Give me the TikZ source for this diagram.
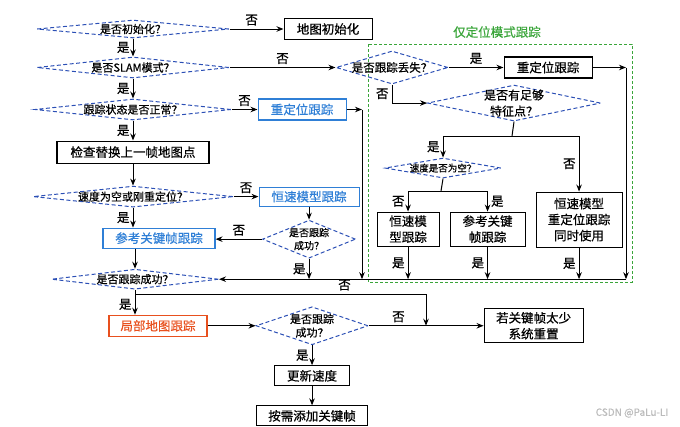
\documentclass[tikz,border=0pt]{standalone}
\usepackage{fontspec}
\setmainfont{Noto Sans CJK SC}[FakeBold=0.6]
\usepackage{xcolor}
\definecolor{flowBlue}{HTML}{2B4FB5}
\definecolor{boxBlue}{HTML}{2F7FD6}
\definecolor{boxRed}{HTML}{E8501E}
\definecolor{groupGreen}{HTML}{3AA53A}
\definecolor{markGray}{HTML}{BBBBBB}
\usepackage{tikz}
\usetikzlibrary{shapes.geometric,arrows.meta,positioning,calc}
\tikzset{
    procbox/.style={
        draw=black,
        rectangle,
        line width=1.1pt,
        align=center,
        inner sep=2pt,
        minimum height=21pt,
        font=\fontsize{12.5}{16}\selectfont
    },
    bluebox/.style={
        procbox,
        draw=boxBlue,
        text=boxBlue
    },
    redbox/.style={
        procbox,
        draw=boxRed,
        text=boxRed
    },
    decision/.style 2 args={
        diamond,
        draw=flowBlue,
        dash pattern=on 4pt off 2.5pt,
        line width=1pt,
        inner sep=0pt,
        minimum width=#1,
        minimum height=#2
    },
    dtext/.style={
        font=\fontsize{11}{13.5}\selectfont,
        align=center,
        inner sep=0pt
    },
    arrow/.style={
        ->,
        >={Stealth[length=7pt,width=5.5pt]},
        line width=1pt,
        color=black
    },
    wire/.style={
        line width=1pt,
        color=black
    },
    tag/.style={
        font=\fontsize{12.5}{14}\selectfont,
        inner sep=3pt
    }
}

\begin{document}
\begin{tikzpicture}[x=1pt, y=-1pt]
    \useasboundingbox (0,0) rectangle (680,426);

    % Main column
    \node[decision={192pt}{18pt}, label={[dtext]center:是否初始化？}] (init) at (133,29) {};
    \node[decision={192pt}{21pt}, below=18pt of init, label={[dtext]center:是否SLAM模式？}] (slam) {};
    \node[decision={196pt}{21pt}, below=20pt of slam, label={[dtext]center:跟踪状态是否正常？}] (state) {};
    \node[procbox, minimum width=152pt, minimum height=22pt, below=20pt of state] (check) {检查替换上一帧地图点};
    \node[decision={200pt}{21pt}, below=22pt of check, label={[dtext]center:速度为空或刚重定位？}] (vel) {};
    \node[bluebox, minimum width=112pt, minimum height=20pt, below=20pt of vel, xshift=26pt] (ref) {参考关键帧跟踪};
    \node[decision={167pt}{20pt}, below=20pt of ref, xshift=-24pt, label={[dtext]center:是否跟踪成功？}] (succ) {};
    \node[redbox, minimum width=98pt, below=25pt of succ, xshift=23pt] (lmap) {局部地图跟踪};
    \node[decision={112pt}{38pt}, right=48pt of lmap, label={[dtext]center:是否跟踪\\成功？}] (lsucc) {};
    \node[procbox, minimum width=99pt, minimum height=34pt, right=115pt of lsucc] (reset) {若关键帧太少\\系统重置};
    \node[procbox, minimum width=75pt, minimum height=20pt, below=20pt of lsucc] (upd) {更新速度};
    \node[procbox, minimum width=111pt, minimum height=20pt, below=19pt of upd] (addkf) {按需添加关键帧};

    % Side branches
    \node[procbox, minimum width=88pt, right=54pt of init] (mapinit) {地图初始化};
    \node[bluebox, minimum width=88pt, right=26pt of state] (relocB) {重定位跟踪};
    \node[bluebox, minimum width=100pt, minimum height=19pt, right=25pt of vel] (cvB) {恒速模型跟踪};
    \node[decision={93pt}{38pt}, below=13pt of cvB, label={[dtext, font=\fontsize{10}{13}\selectfont]center:是否跟踪\\成功？}] (csucc) {};

    % Localization only mode
    \draw[groupGreen, line width=1pt, dash pattern=on 3pt off 2pt] (368,44) rectangle (632,282);
    \node[font=\fontsize{12.5}{15}\selectfont, text=groupGreen] (grptitle) at (497,32) {仅定位模式跟踪};
    \node[decision={112pt}{33pt}, right=106pt of slam, label={[dtext, font=\fontsize{11.5}{14}\selectfont]center:是否跟踪丢失？}] (lost) {};
    \node[procbox, minimum width=88pt, right=55pt of lost] (relocG) {重定位跟踪};
    \node[decision={173pt}{36pt}, below=6pt of relocG, xshift=-34pt, label={[dtext, font=\fontsize{12}{16}\selectfont]center:是否有足够\\特征点？}] (feat) {};
    \node[decision={116pt}{20pt}, below=36pt of feat, xshift=-71pt, label={[dtext, font=\fontsize{9.5}{12}\selectfont]center:速度是否为空？}] (vnull) {};
    \node[procbox, minimum width=62pt, minimum height=34pt, below=33pt of vnull, xshift=-35pt] (cv2) {恒速模\\型跟踪};
    \node[procbox, minimum width=75pt, minimum height=34pt, below=33pt of vnull, xshift=44.5pt] (ref2) {参考关键\\帧跟踪};
    \node[procbox, minimum width=86pt, minimum height=55pt, below=70pt of feat, xshift=65pt] (both) {恒速模型\\重定位跟踪\\同时使用};

    \node[font=\fontsize{10}{12}\selectfont, text=markGray] (mark) at (632,413) {CSDN @PaLu-LI};

    % Junctions
    \coordinate (jr) at (362,0);
    \coordinate (rr) at (626,0);
    \coordinate (fb) at (512,136);
    \coordinate (vb) at (441,191);
    \coordinate (sb) at (135,294);
    \coordinate (sj) at (426,0);

    % Connections
    \draw[arrow] (init) -- (mapinit) node[tag, pos=0.41, above] {否};
    \draw[arrow] (init) -- (slam) node[tag, midway, left] {是};
    \draw[arrow] (slam) -- (lost) node[tag, midway, above] {否};
    \draw[arrow] (slam) -- (state) node[tag, midway, left] {是};
    \draw[arrow] (state) -- (relocB) node[tag, midway, above] {否};
    \draw[arrow] (state) -- (check) node[tag, midway, left] {是};
    \draw[arrow] (check) -- (vel);
    \draw[arrow] (vel) -- (cvB) node[tag, midway, above] {否};
    \draw[arrow] (vel.south) -- (vel.south |- ref.north) node[tag, midway, left] {是};
    \draw[arrow] (cvB) -- (csucc);
    \draw[arrow] (csucc.west) -- (csucc.west -| ref.east) node[tag, midway, above] {否};
    \draw[arrow] (csucc) -- (csucc |- succ) node[tag, midway, left] {是};
    \draw[arrow] (ref.south -| succ.north) -- (succ.north);
    \draw[arrow] (relocB) -- (relocB -| jr);
    \draw[arrow] (relocB -| jr) -- (jr |- succ);
    \draw[arrow] (lost) -- (relocG) node[tag, midway, above] {是};
    \draw[arrow] (relocG) -- (relocG -| rr);
    \draw[arrow] (relocG -| rr) -- (rr |- succ);
    \draw[arrow] (lost.south) |- (feat.west) node[tag, pos=0.25, left] {否};
    \draw[wire] (feat.south) -- (fb);
    \draw[arrow] (fb) -| (vnull.north) node[tag, pos=0.75, left] {是};
    \draw[arrow] (fb) -| (both.north) node[tag, pos=0.75, left] {否};
    \draw[wire] (vnull.south) -- (vb);
    \draw[arrow] (vb) -| (cv2.north) node[tag, pos=0.75, left] {否};
    \draw[arrow] (vb) -| (ref2.north) node[tag, pos=0.75, right] {是};
    \draw[arrow] (cv2) -- (cv2 |- succ) node[tag, midway, left] {是};
    \draw[arrow] (ref2) -- (ref2 |- succ) node[tag, midway, left] {是};
    \draw[arrow] (both) -- (both |- succ) node[tag, midway, left] {是};
    \draw[arrow] (rr |- succ) -- (succ.east);
    \draw[wire] (succ) -- (sb);
    \draw[arrow] (sb) -- (sb |- lmap.north) node[tag, midway, left] {是};
    \draw[arrow] (sb) -| (sj |- lsucc) node[tag, pos=0.36, above] {否};
    \draw[arrow] (lmap) -- (lsucc);
    \draw[arrow] (lsucc) -- (reset) node[tag, pos=0.26, above] {否};
    \draw[arrow] (lsucc) -- (upd) node[tag, midway, left] {是};
    \draw[arrow] (upd) -- (addkf);
\end{tikzpicture}
\end{document}
